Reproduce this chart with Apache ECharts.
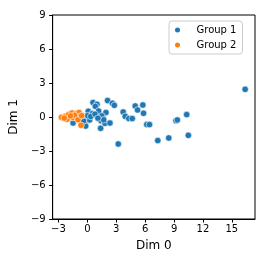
<!DOCTYPE html>
<html><head><meta charset="utf-8">
<script src="https://cdn.jsdelivr.net/npm/echarts@6/dist/echarts.min.js"></script>
<style>html,body{margin:0;padding:0;background:#fff}#c{width:266px;height:266px}</style>
</head><body><div id="c"></div>
<script>
const seriesNames = ['Group 1', 'Group 2'];
const group1X = [0.59, 1.0, 0.83, 2.1, 2.6, 2.8, 0.1, 0.52, 1.17, 1.93, 1.62, 1.42, 1.38, 1.83, 2.35, -0.17, 0.24, -0.17, -1.48, 0.03, 3.72, 3.93, 4.31, 4.66, 4.97, 5.21, 5.76, 5.83, 6.17, 6.45, 3.21, 7.31, 8.45, 9.2, 9.34, 10.31, 10.48, 16.38, -0.6, -0.4, 1.5, 1.7, 0.35, 0.8, 1.1];
const group1Y = [1.27, 1.12, 0.94, 1.45, 1.21, 1.03, 0.5, 0.3, 0.53, 0.39, -0.05, -0.32, -1.0, -0.56, -0.53, -0.32, -0.26, -0.8, -0.53, 0.12, 0.44, 0.06, -0.14, -0.14, 0.97, 0.62, 1.06, 0.33, -0.67, -0.67, -2.38, -2.08, -1.85, -0.32, -0.26, 0.21, -1.62, 2.44, 0.15, -0.35, 0.1, -0.25, 0.05, 0.25, -0.1];
const group2X = [-2.69, -2.28, -1.93, -1.59, -1.14, -0.86, -0.72, -1.07, -0.66, -1.48, -2.1, -1.31, -0.97, -0.6, -1.75, -2.4];
const group2Y = [-0.03, 0.06, 0.21, 0.35, 0.3, 0.39, 0.06, -0.05, -0.73, -0.05, -0.2, 0.15, -0.24, 0.12, 0.1, -0.1];
const xTicks = [-3, 0, 3, 6, 9, 12, 15];
const yTicks = [-9, -6, -3, 0, 3, 6, 9];
const xTitle = 'Dim 0';
const yTitle = 'Dim 1';
const colors = ['#1f77b4', '#ff7f0e'];

const font = 'DejaVu Sans';
const chart = echarts.init(document.getElementById('c'), null, {renderer: 'canvas'});
function pts(xs, ys) { return xs.map((x, i) => [x, ys[i]]); }
chart.setOption({
  animation: false,
  textStyle: {fontFamily: font},
  grid: {left: 52, right: 11, top: 15, bottom: 47, show: true, borderColor: '#000', borderWidth: 1, backgroundColor: 'transparent'},
  legend: {
    orient: 'vertical', left: 169, top: 21,
    padding: [4, 6, 4, 4], itemGap: 5,
    itemWidth: 22, itemHeight: 7,
    borderColor: '#cccccc', borderWidth: 1, borderRadius: 3,
    backgroundColor: 'rgba(255,255,255,0.8)',
    textStyle: {fontFamily: font, fontSize: 10, color: '#000', lineHeight: 10, padding: [0, 0, 0, 3]},
    data: seriesNames.map(n => ({name: n, icon: 'circle'}))
  },
  xAxis: {
    type: 'value', min: -3.6, max: 17.4,
    name: xTitle, nameLocation: 'middle', nameGap: 21,
    nameTextStyle: {fontFamily: font, fontSize: 12, color: '#000'},
    axisLine: {show: true, onZero: false, lineStyle: {color: '#000', width: 1}},
    axisTick: {show: true, inside: false, length: 3.5, customValues: xTicks, lineStyle: {color: '#000'}},
    axisLabel: {customValues: xTicks, fontFamily: font, fontSize: 10, color: '#000', margin: 5,
      formatter: v => (v < 0 ? '\u2212' + Math.abs(v) : String(v))},
    splitLine: {show: false}
  },
  yAxis: {
    type: 'value', min: -9, max: 9, interval: 3,
    name: yTitle, nameLocation: 'middle', nameGap: 26, nameRotate: 90,
    nameTextStyle: {fontFamily: font, fontSize: 12, color: '#000'},
    axisLine: {show: true, onZero: false, lineStyle: {color: '#000', width: 1}},
    axisTick: {show: true, inside: false, length: 3.5, lineStyle: {color: '#000'}},
    axisLabel: {fontFamily: font, fontSize: 10, color: '#000', margin: 7,
      formatter: v => (v < 0 ? '\u2212' + Math.abs(v) : String(v))},
    splitLine: {show: false}
  },
  series: [
    {name: seriesNames[0], type: 'scatter', data: pts(group1X, group1Y), symbolSize: 6.5,
     itemStyle: {color: colors[0], borderColor: '#fff', borderWidth: 0.6, opacity: 1}},
    {name: seriesNames[1], type: 'scatter', data: pts(group2X, group2Y), symbolSize: 6.5,
     itemStyle: {color: colors[1], borderColor: '#fff', borderWidth: 0.6, opacity: 1}}
  ]
});
</script></body></html>
